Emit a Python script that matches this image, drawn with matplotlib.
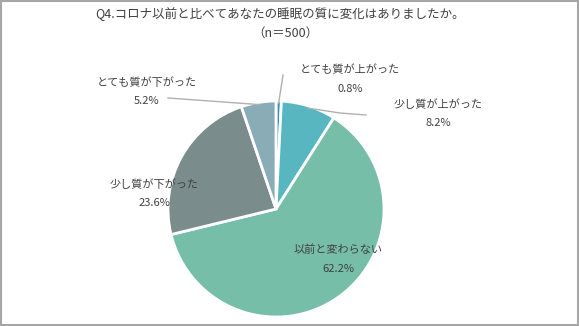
import numpy as np
import matplotlib
matplotlib.use("Agg")
import matplotlib.pyplot as plt

plt.rcParams['font.family'] = ['Noto Sans CJK JP', 'DejaVu Sans']

labels = ['とても質が上がった', '少し質が上がった', '以前と変わらない', '少し質が下がった', 'とても質が下がった']
values = [0.8, 8.2, 62.2, 23.6, 5.2]
colors = ['#3590bd', '#58b6c0', '#76bea8', '#7a8c8c', '#8aacb6']
title = 'Q4.コロナ以前と比べてあなたの睡眠の質に変化はありましたか。'
subtitle = '（n＝500）'

W, H = 579, 326
fig = plt.figure(figsize=(W / 100, H / 100), dpi=100)

# pie center / radius in pixels
cx, cy, r = 276, 209, 108
ax = fig.add_axes([(cx - r) / W, (H - cy - r) / H, 2 * r / W, 2 * r / H])
wedges, _ = ax.pie(values, colors=colors, startangle=90, counterclock=False,
                   wedgeprops=dict(edgecolor='white', linewidth=2))
ax.set_xlim(-1, 1)
ax.set_ylim(-1, 1)
ax.set_aspect('equal')

# overlay in pixel coords
ov = fig.add_axes([0, 0, 1, 1], facecolor='none')
ov.set_xlim(0, W)
ov.set_ylim(H, 0)
ov.axis('off')
ov.add_patch(plt.Rectangle((1, 1), W - 2, H - 2, fill=False, edgecolor='#a6a6a6', lw=1.5))

tc = '#404040'
ov.text(280, 14, title, ha='center', va='center', fontsize=9, color=tc)
ov.text(285, 33, subtitle, ha='center', va='center', fontsize=9, color=tc)

# label positions (pixel) for name / percentage
pos = [(350, 70), (438, 105), (338, 250), (154, 185), (147, 83)]
for lab, v, (x, y) in zip(labels, values, pos):
    ov.text(x, y, lab, ha='center', va='center', fontsize=8, color=tc)
    ov.text(x, y + 18.5, f'{v}%', ha='center', va='center', fontsize=8, color=tc)

def edge_point(w, frac=0.98):
    a = np.deg2rad((w.theta1 + w.theta2) / 2)
    return cx + r * frac * np.cos(a), cy - r * frac * np.sin(a)

lc = '#b0b0b0'
x0, y0 = edge_point(wedges[0])
ov.plot([x0, 283], [y0, 75], color=lc, lw=1)
x0, y0 = edge_point(wedges[1])
ov.plot([x0, 340, 366], [y0, 113, 115], color=lc, lw=1)
x0, y0 = edge_point(wedges[4])
ov.plot([x0, 168], [y0, 98], color=lc, lw=1)

fig.savefig('out.png', dpi=100)
